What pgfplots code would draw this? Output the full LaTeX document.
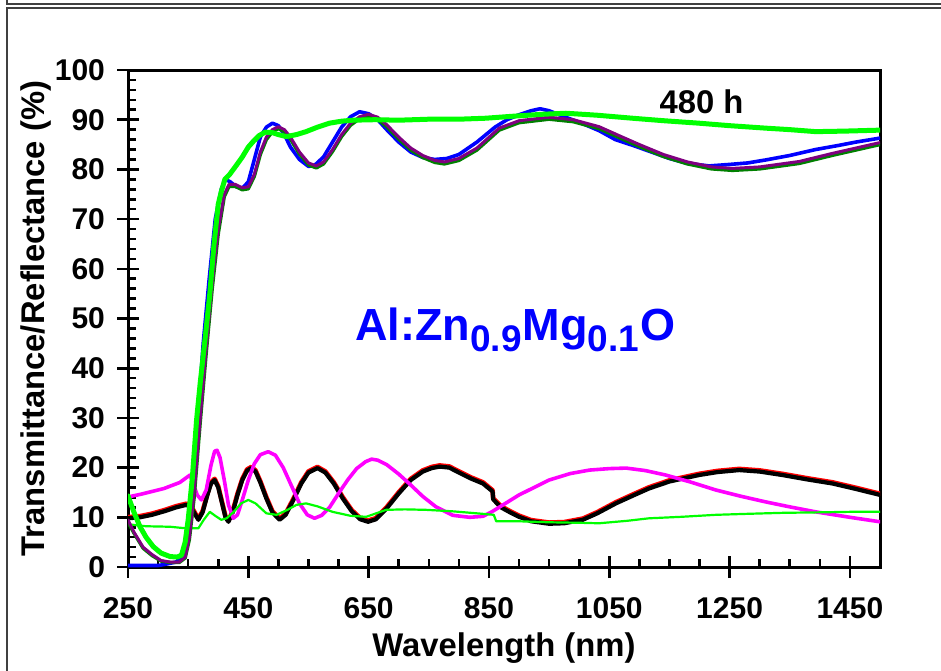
\documentclass[border=0pt]{standalone}
\usepackage{pgfplots}
\pgfplotsset{compat=1.18}
\usepackage{fontspec}
\setmainfont{Liberation Sans}
\definecolor{tblue}{RGB}{0,0,255}
\definecolor{tdgreen}{RGB}{0,128,0}
\definecolor{tpurple}{RGB}{128,0,128}
\definecolor{tgreen}{RGB}{0,255,0}
\definecolor{rmag}{RGB}{255,0,255}
\definecolor{rred}{RGB}{255,0,0}

\pgfplotstableread{
x y
250 0.3
300 0.3
310 0.5
330 1
345 3
355 12
365 28
375 45
385 58
395 70
405 76
412 78
420 77.5
430 76.5
440 76.2
450 77.5
460 82
470 86.5
480 88.5
490 89.3
500 88.8
510 87
520 84.5
535 82
550 80.6
560 80.8
575 82.5
590 85.5
605 88.5
620 90.6
635 91.6
650 91.2
665 90
680 88
700 85.5
720 83.5
740 82.4
760 82
780 82.2
800 83
830 85.5
860 88.5
880 90
900 91
920 91.8
935 92.2
950 91.8
975 90.6
1000 89.5
1033 87.8
1060 86
1090 84.8
1120 83.5
1150 82.2
1180 81.2
1216 80.7
1250 81
1280 81.3
1310 81.9
1350 82.8
1393 84
1430 84.8
1460 85.5
1500 86.3
}\Tblue

\pgfplotstableread{
x y
250 9.5
260 7
275 4
290 2.5
305 1.3
320 1
335 1
345 2
352 6
360 15
370 30
380 44
390 57
400 68
410 75
418 77
428 77
440 76.3
450 76.5
460 79
470 83.5
480 86.5
490 88
500 88.6
510 88
520 86.5
535 83.5
550 81.3
563 80.7
575 81.5
590 84
605 87
620 89.3
635 90.6
650 91.1
665 90.5
680 89
700 86.5
720 84.3
740 82.8
760 81.8
776 81.5
800 82.2
830 84.3
867 88.3
900 89.8
950 90.5
990 90
1033 88.6
1070 86.6
1100 85
1140 83
1180 81.5
1220 80.5
1255 80.2
1300 80.5
1366 81.6
1420 83.2
1460 84.3
1500 85.4
}\Tpurple

\pgfplotstableread{
x y
250 9
260 6.8
275 3.8
290 2.3
305 1.2
320 0.9
335 0.9
345 1.8
352 5.5
360 14
370 29
380 43
390 56
400 67
410 74.5
418 76.6
428 76.6
440 75.9
450 76.1
460 78.6
470 83
480 86
490 87.6
500 88.2
510 87.6
520 86.1
535 83.1
550 80.9
563 80.3
575 81.1
590 83.6
605 86.6
620 88.9
635 90.2
650 90.7
665 90.1
680 88.6
700 86.1
720 83.9
740 82.4
760 81.4
776 81.1
800 81.8
830 83.9
867 87.9
900 89.4
950 90.1
990 89.6
1033 88.2
1070 86.2
1100 84.6
1140 82.6
1180 81.1
1220 80.1
1255 79.8
1300 80.1
1366 81.2
1420 82.8
1460 83.9
1500 85
}\Tdgreen

\pgfplotstableread{
x y
250 14.3
260 11
270 8.1
280 6
292 4.1
305 2.8
320 2.1
332 2
339 2.4
345 5
350 9.5
357 18
364 29.6
370 37
380 48
386 55
393 65
400 73
405 75.5
411 78
419 79
430 80.8
440 82.5
450 84.5
458 85.6
468 86.8
478 87.5
490 87.4
500 87
513 86.6
530 87
546 87.6
565 88.5
585 89.3
605 89.7
624 89.9
660 90
700 89.9
750 90.1
800 90.1
845 90.3
890 90.7
940 91.1
978 91.3
1030 90.9
1088 90.3
1140 89.8
1199 89.3
1250 88.8
1310 88.3
1350 88
1393 87.6
1440 87.7
1500 87.9
}\Tgreen

\pgfplotstableread{
x y
250 9.8
270 10
290 10.5
310 11.2
330 12
347 12.5
355 12
362 10.5
367 9.5
374 11
382 14.5
388 16.8
394 17.5
400 16
406 13
412 10
417 9.1
424 11
432 14.5
440 17.5
448 19.4
455 19.9
462 19.2
470 17
480 13.8
490 11
502 9.5
512 10.5
525 13.5
538 16.8
550 19
565 19.9
578 19
592 16.8
607 13.8
622 11.2
636 9.6
649 9.1
662 9.6
680 11.8
700 14.8
720 17.5
740 19.2
755 19.9
768 20.2
784 20
800 19
820 17.8
840 16.8
856 15.2
857 13.6
870 12
885 11
900 10.1
920 9.2
950 8.7
975 8.8
1006 9.5
1030 10.8
1061 12.8
1090 14.4
1116 15.8
1150 17.2
1199 18.5
1230 19.1
1266 19.5
1300 19.2
1338 18.5
1380 17.6
1421 16.8
1460 15.7
1500 14.5
}\Rblack

\pgfplotstableread{
x y
250 14.1
270 14.6
290 15.2
310 15.8
325 16.5
336 17
345 17.8
353 18.5
358 17
365 14.5
372 13.5
380 15.5
388 20.5
394 23.3
398 23.5
403 22
410 17.5
417 12.5
425 9.8
432 10.5
440 13.5
450 17.5
460 20.8
470 22.6
483 23.2
495 22.5
508 20
520 16.8
535 12.8
548 10.5
560 9.8
572 10.4
585 12
600 14.8
615 17.5
630 19.8
645 21.2
655 21.7
665 21.5
680 20.6
700 18.7
720 16.5
740 14.2
762 12.1
790 10.4
818 10
840 10.2
856 11.2
880 13
900 14.5
925 16
950 17.5
985 18.8
1017 19.5
1050 19.8
1078 19.9
1110 19.4
1144 18.5
1185 17.1
1227 15.5
1270 14.2
1310 13.1
1350 12.1
1393 11.1
1450 10
1500 9.1
}\Rmag

\pgfplotstableread{
x y
250 8.6
280 8.2
320 8.1
345 7.8
367 7.8
376 9.5
386 11.1
395 10.3
405 9.5
414 9.8
425 11
438 12.8
450 13.5
462 12.8
480 10.8
497 10.5
515 11.5
530 12.5
546 12.8
565 12.2
590 11.1
620 10.3
646 10.1
679 11.5
710 11.6
746 11.5
790 11.2
830 10.8
858 10.5
862 9.2
900 9.2
950 9
1000 8.9
1033 8.8
1080 9.3
1116 9.8
1170 10.1
1227 10.5
1280 10.7
1338 10.9
1400 11
1450 11.1
1500 11.1
}\Rgreen

\begin{document}
\begin{tikzpicture}
\useasboundingbox (-64pt,-51.5pt) rectangle (406.5pt,283.5pt);
\draw[black!75, line width=0.8pt] (-60.5pt,-60pt) -- (-60.5pt,279.5pt) -- (420pt,279.5pt);
\draw[black!75, line width=0.8pt] (-60.5pt,290pt) -- (-60.5pt,281.5pt) -- (420pt,281.5pt);
\begin{axis}[
  at={(0,0)}, anchor=south west,
  scale only axis, width=376pt, height=248.5pt,
  xmin=250, xmax=1500, ymin=0, ymax=100,
  xtick={250,450,...,1450}, ytick={0,10,...,100},
  minor x tick num=3, minor y tick num=4,
  tick pos=left,
  tick align=inside,
  major tick length=11pt, minor tick length=4pt,
  every tick/.style={black, line width=1.3pt},
  every major x tick/.append style={yshift=-5.5pt},
  every major y tick/.append style={xshift=-5.5pt},
  axis line style={line width=1.5pt},
  ticklabel style={font=\bfseries\fontsize{15}{17}\selectfont},
  /pgf/number format/assume math mode=true,
  /pgf/number format/1000 sep={},
  xticklabel style={yshift=-11.5pt},
  yticklabel style={xshift=-8pt},
  xlabel={Wavelength (nm)},
  ylabel={Transmittance/Reflectance (\%)},
  label style={font=\bfseries\fontsize{16.4}{18}\selectfont},
  xlabel style={at={(axis description cs:0.5,-0.163)}, anchor=center},
  ylabel style={at={(axis description cs:-0.122,0.5)}, anchor=center},
  every axis plot/.append style={line join=round, line cap=round},
]
\addplot[rred, line width=2.3pt, yshift=0.6pt] table {\Rblack};
\addplot[black, line width=2.1pt] table {\Rblack};
\addplot[rmag, line width=1.8pt] table {\Rmag};
\addplot[tgreen, line width=1.1pt] table {\Rgreen};
\addplot[tblue, line width=1.8pt] table {\Tblue};
\addplot[tdgreen, line width=1.7pt] table {\Tdgreen};
\addplot[tpurple, line width=1.5pt] table {\Tpurple};
\addplot[tgreen, line width=2.5pt] table {\Tgreen};
\node[anchor=base west, font=\bfseries\fontsize{16.4}{18}\selectfont] at (axis cs:1122,91.3) {480 h};
\node[anchor=base west, text=tblue, font=\bfseries\fontsize{22.5}{26}\selectfont, inner sep=0pt] at (axis cs:627,45.6) {Al:Zn\textsubscript{\fontsize{18.5}{20}\selectfont 0.9}Mg\textsubscript{\fontsize{18.5}{20}\selectfont 0.1}O};
\end{axis}
\end{tikzpicture}
\end{document}
